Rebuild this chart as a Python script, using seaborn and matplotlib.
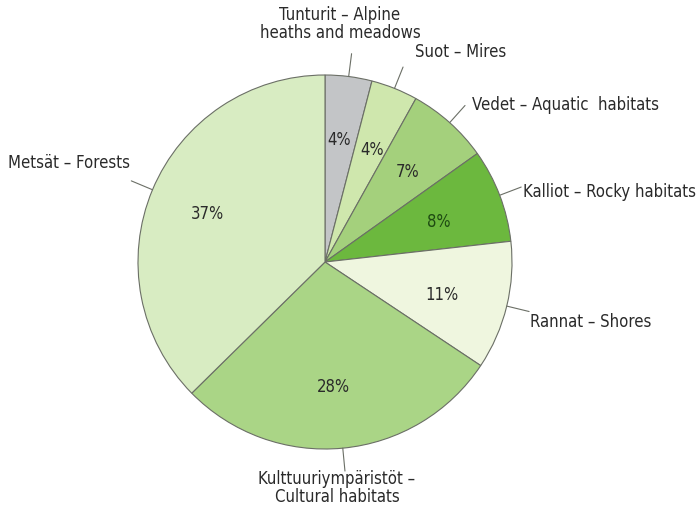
import numpy as np
import matplotlib
matplotlib.use("Agg")
import matplotlib.pyplot as plt
import seaborn as sns

# habitat shares (%), clockwise from the top
habitats = ["Tunturit – Alpine\nheaths and meadows", "Suot – Mires", "Vedet – Aquatic  habitats",
            "Kalliot – Rocky habitats", "Rannat – Shores",
            "Kulttuuriympäristöt –\nCultural habitats", "Metsät – Forests"]
shares = [4, 4, 7, 8, 11, 28, 37]
colors = ["#c3c5c7", "#cfe7ad", "#a4d07c", "#6cb83e", "#eff6df", "#aad586", "#d8ecc2"]

sns.set_theme(style="white")
plt.rcParams['font.family'] = ['DejaVu Sans']
plt.rcParams['font.stretch'] = 'condensed'

fig = plt.figure(figsize=(7, 5.11), dpi=100)
ax = fig.add_axes([0, 0, 1, 1])

wedges, _, autotexts = ax.pie(shares, colors=colors, startangle=90, counterclock=False,
                              radius=187, autopct=lambda p: f"{p * sum(shares) / 100:.0f}%",
                              wedgeprops=dict(edgecolor="#6b6f66", linewidth=0.8),
                              textprops=dict(fontsize=12, color="#2a2a2a"))

# percent text centres and label positions (pixel coords)
pct_pos = [(339, 140), (372, 150), (408, 172), (439, 222), (442, 295), (333, 387), (207, 214)]
label_pos = [(340, 24, "center"), (415, 52, "left"), (472, 105, "left"),
             (523, 192, "left"), (530, 322, "left"), (337, 488, "center"),
             (130, 163, "right")]

for t, (px, py) in zip(autotexts, pct_pos):
    t.set_position((px - 325, 262 - py))
    t.set_fontstretch('condensed')
autotexts[3].set_color("#1e4a12")

for w, lab, (px, py, ha) in zip(wedges, habitats, label_pos):
    ang = np.deg2rad((w.theta1 + w.theta2) / 2)
    r0, r1 = 187, 210
    ax.plot([r0 * np.cos(ang), r1 * np.cos(ang)], [r0 * np.sin(ang), r1 * np.sin(ang)],
            color="#6b6f66", lw=0.8)
    ax.text(px - 325, 262 - py, lab, ha=ha, va="center", fontsize=12,
            color="#2a2a2a", linespacing=1.0, fontstretch='condensed')

ax.set_xlim(-325, 375)
ax.set_ylim(-249, 262)
ax.set_aspect("equal")
ax.axis("off")

fig.savefig("out.png", dpi=100)
